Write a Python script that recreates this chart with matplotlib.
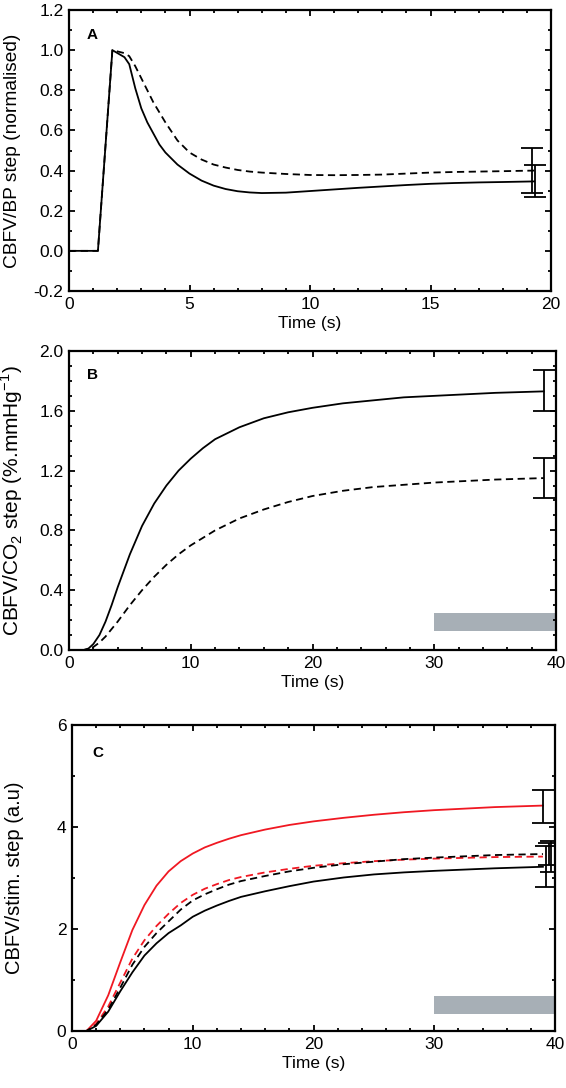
import matplotlib
matplotlib.use("Agg")
import matplotlib.pyplot as plt
from matplotlib.ticker import MultipleLocator, FormatStrFormatter

plt.rcParams["font.family"] = ["Liberation Sans", "DejaVu Sans"]
plt.rcParams["mathtext.fontset"] = "custom"
plt.rcParams["mathtext.rm"] = "Liberation Sans"

RED = "#f01822"
GREY = "#a7afb6"
DASH = (0, (4, 2.5))

# ---- panel A : CBFV/BP step
t_a = [0, 1.2, 1.8, 2.3, 2.5, 2.75, 3.0, 3.25, 3.5, 3.75, 4.0, 4.5, 5, 5.5, 6, 6.5,
       7, 7.5, 8, 9, 10, 11, 12, 13, 14, 15, 16, 17, 18, 19.3]
a_solid = [0, 0, 1.0, 0.965, 0.93, 0.81, 0.71, 0.64, 0.585, 0.53, 0.49, 0.43, 0.385,
           0.35, 0.325, 0.308, 0.297, 0.291, 0.288, 0.29, 0.298, 0.306, 0.314, 0.321,
           0.328, 0.334, 0.338, 0.341, 0.343, 0.346]
a_dashed = [0, 0, 1.0, 0.985, 0.97, 0.92, 0.86, 0.8, 0.74, 0.69, 0.64, 0.55, 0.49,
            0.455, 0.43, 0.415, 0.403, 0.395, 0.39, 0.383, 0.378, 0.377, 0.378, 0.38,
            0.385, 0.39, 0.393, 0.395, 0.397, 0.40]
a_err_t = [19.2, 19.35]
a_err_y = [0.40, 0.35]
a_err_e = [0.113, 0.08]

# ---- panel B : CBFV/CO2 step
t_b = [0, 1.2, 1.6, 2, 2.5, 3, 3.5, 4, 5, 6, 7, 8, 9, 10, 11, 12, 13, 14, 16, 18, 20,
       22.5, 25, 27.5, 30, 35, 39]
b_solid = [0, 0, 0.01, 0.04, 0.1, 0.19, 0.3, 0.42, 0.64, 0.83, 0.98, 1.1, 1.2, 1.28,
           1.35, 1.41, 1.45, 1.49, 1.55, 1.59, 1.62, 1.65, 1.67, 1.69, 1.70, 1.72, 1.73]
b_dashed = [0, 0, 0.005, 0.02, 0.05, 0.09, 0.14, 0.19, 0.3, 0.4, 0.49, 0.57, 0.64,
            0.70, 0.75, 0.80, 0.84, 0.88, 0.94, 0.99, 1.03, 1.065, 1.09, 1.105, 1.12,
            1.14, 1.15]
b_err_t = [39.0, 39.0]
b_err_y = [1.735, 1.15]
b_err_e = [0.135, 0.135]

# ---- panel C : CBFV/stim. step
t_c = [0, 1.2, 2, 3, 4, 5, 6, 7, 8, 9, 10, 11, 12, 13, 14, 16, 18, 20, 22.5, 25,
       27.5, 30, 35, 39]
c_red = [0, 0, 0.2, 0.7, 1.35, 1.98, 2.47, 2.85, 3.13, 3.33, 3.48, 3.6, 3.69, 3.77,
         3.84, 3.95, 4.04, 4.11, 4.18, 4.24, 4.29, 4.33, 4.39, 4.42]
c_black_dash = [0, 0, 0.12, 0.42, 0.85, 1.3, 1.65, 1.92, 2.15, 2.38, 2.56, 2.68, 2.78,
                2.87, 2.94, 3.04, 3.13, 3.2, 3.27, 3.32, 3.37, 3.4, 3.45, 3.47]
c_red_dash = [0, 0, 0.14, 0.48, 0.95, 1.42, 1.78, 2.06, 2.3, 2.51, 2.67, 2.79, 2.88,
              2.96, 3.02, 3.11, 3.18, 3.24, 3.29, 3.33, 3.36, 3.38, 3.41, 3.42]
c_black = [0, 0, 0.1, 0.38, 0.78, 1.15, 1.48, 1.72, 1.92, 2.07, 2.24, 2.36, 2.46, 2.55,
           2.63, 2.74, 2.84, 2.93, 3.01, 3.07, 3.11, 3.14, 3.19, 3.22]
c_err_t = [39.0, 39.25, 39.5, 39.7]
c_err_y = [4.4, 3.22, 3.47, 3.42]
c_err_e = [0.32, 0.40, 0.22, 0.30]

W, H = 566, 1088


def make_ax(fig, left, top, right, bottom):
    return fig.add_axes([left / W, 1 - bottom / H, (right - left) / W, (bottom - top) / H])


def style_ax(ax, xmaj, xmin, ymaj, ymin):
    ax.xaxis.set_major_locator(MultipleLocator(xmaj))
    ax.xaxis.set_minor_locator(MultipleLocator(xmin))
    ax.yaxis.set_major_locator(MultipleLocator(ymaj))
    ax.yaxis.set_minor_locator(MultipleLocator(ymin))
    ax.tick_params(which="both", direction="in", top=True, right=True,
                   labelsize=12.5, width=1.3, color="black")
    ax.tick_params(which="major", length=4, pad=4)
    ax.tick_params(which="minor", length=2)
    for sp in ax.spines.values():
        sp.set_linewidth(1.6)
    ax.set_xlabel("Time (s)", fontsize=12.5, labelpad=3)


def errbars(ax, xs, ys, es):
    for x, y, e in zip(xs, ys, es):
        ax.errorbar(x, y, yerr=e, fmt="none", ecolor="black", elinewidth=1.3,
                    capsize=8, capthick=1.3, zorder=4)


fig = plt.figure(figsize=(W / 100, H / 100), dpi=100)

# A
ax_a = make_ax(fig, 69, 10, 551, 291)
ax_a.plot(t_a, a_solid, color="black", lw=1.3)
ax_a.plot(t_a, a_dashed, color="black", lw=1.3, ls=DASH)
errbars(ax_a, a_err_t, a_err_y, a_err_e)
ax_a.set_xlim(0, 20)
ax_a.set_ylim(-0.2, 1.2)
style_ax(ax_a, 5, 1, 0.2, 0.1)
ax_a.yaxis.set_major_formatter(FormatStrFormatter("%.1f"))
ax_a.set_ylabel("CBFV/BP step (normalised)", fontsize=13.8)
ax_a.yaxis.set_label_coords(-0.1, 0.5)
ax_a.text(0.037, 0.91, "A", transform=ax_a.transAxes, fontsize=11, fontweight="bold",
          va="center", ha="left")

# B
ax_b = make_ax(fig, 69, 351, 556, 650)
ax_b.plot(t_b, b_solid, color="black", lw=1.3)
ax_b.plot(t_b, b_dashed, color="black", lw=1.3, ls=DASH)
errbars(ax_b, b_err_t, b_err_y, b_err_e)
ax_b.axhspan(0.13, 0.25, xmin=0.75, xmax=1.0, color=GREY, lw=0, zorder=1)
ax_b.set_xlim(0, 40)
ax_b.set_ylim(0, 2.0)
style_ax(ax_b, 10, 2, 0.4, 0.1)
ax_b.yaxis.set_major_formatter(FormatStrFormatter("%.1f"))
ax_b.set_ylabel(r"CBFV/CO$_2$ step (%.mmHg$^{-1}$)", fontsize=15)
ax_b.yaxis.set_label_coords(-0.09, 0.5)
ax_b.text(0.037, 0.92, "B", transform=ax_b.transAxes, fontsize=11, fontweight="bold",
          va="center", ha="left")

# C
ax_c = make_ax(fig, 72, 725, 555, 1031)
ax_c.plot(t_c, c_red, color=RED, lw=1.3)
ax_c.plot(t_c, c_red_dash, color=RED, lw=1.3, ls=DASH)
ax_c.plot(t_c, c_black_dash, color="black", lw=1.3, ls=DASH)
ax_c.plot(t_c, c_black, color="black", lw=1.3)
errbars(ax_c, c_err_t, c_err_y, c_err_e)
ax_c.axhspan(0.33, 0.68, xmin=0.75, xmax=1.0, color=GREY, lw=0, zorder=1)
ax_c.set_xlim(0, 40)
ax_c.set_ylim(0, 6)
style_ax(ax_c, 10, 2, 2, 1)
ax_c.set_ylabel("CBFV/stim. step (a.u)", fontsize=14.5)
ax_c.yaxis.set_label_coords(-0.1, 0.5)
ax_c.text(0.043, 0.907, "C", transform=ax_c.transAxes, fontsize=11, fontweight="bold",
          va="center", ha="left")

fig.savefig("out.png", dpi=100)
